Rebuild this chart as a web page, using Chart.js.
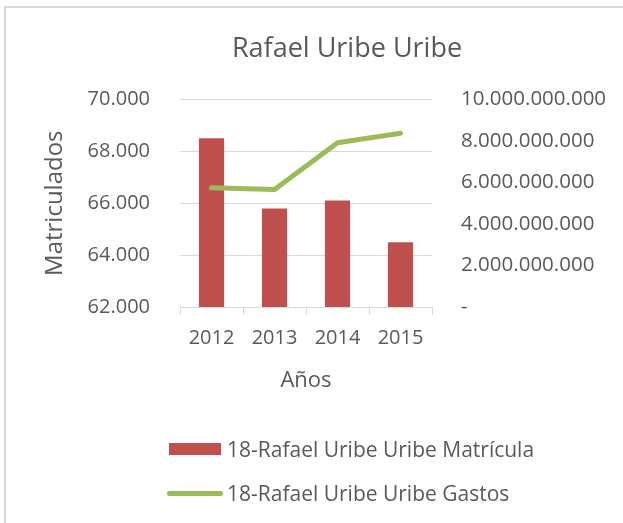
<!DOCTYPE html>
<html>
<head>
<meta charset="utf-8">
<script src="https://cdn.jsdelivr.net/npm/chart.js@4.4.1/dist/chart.umd.min.js"></script>
<style>
	body { margin: 0; background: #fff; overflow: hidden; font-family: 'Open Sans', sans-serif; }
	#marco { position: absolute; left: 4px; top: 6px; width: 700px; height: 600px; border-left: 2px solid #d9d9d9; border-top: 2px solid #d9d9d9; }
	#myChart { position: absolute; left: 0; top: 0; }
	.leyenda { position: absolute; left: 227px; font-size: 21px; color: #595959; line-height: 24px; white-space: nowrap; }
	.cajaBarra { position: absolute; left: 169px; top: 443px; width: 52px; height: 12px; background: #c0504d; }
	.cajaLinea { position: absolute; left: 167px; top: 491px; width: 56px; height: 5px; border-radius: 3px; background: #9bbb59; }
</style>
</head>
<body>
<div id="marco"></div>
<canvas id="myChart" width="700" height="523"></canvas>
<div class="cajaBarra"></div>
<div class="leyenda" id="txtMatricula" style="top: 437px;"></div>
<div class="cajaLinea"></div>
<div class="leyenda" id="txtGastos" style="top: 481px;"></div>
<script>
var anios = [ '2012', '2013', '2014', '2015' ];
var matricula = [ 68500, 65800, 66100, 64500 ];
var gastos = [ 5740000000, 5660000000, 7910000000, 8370000000 ];
var etiquetaMatricula = '18-Rafael Uribe Uribe Matrícula';
var etiquetaGastos = '18-Rafael Uribe Uribe Gastos';

function formatoMiles(v) {
	return String(Math.round(v)).replace(/\B(?=(\d{3})+(?!\d))/g, '.');
}

function pintaGrafica() {
	document.getElementById('txtMatricula').textContent = etiquetaMatricula;
	document.getElementById('txtGastos').textContent = etiquetaGastos;

	Chart.defaults.font.family = "'Open Sans', sans-serif";
	Chart.defaults.color = '#595959';

	var ctx = document.getElementById('myChart').getContext('2d');
	var chart = new Chart(ctx, {
		type : 'bar',
		data : {
			labels : anios,
			datasets : [ {
				label : etiquetaMatricula,
				data : matricula,
				backgroundColor : '#c0504d',
				barPercentage : 0.4,
				categoryPercentage : 1,
				yAxisID : 'y',
				order : 1
			}, {
				type : 'line',
				label : etiquetaGastos,
				data : gastos,
				borderColor : '#9bbb59',
				borderWidth : 5,
				borderCapStyle : 'round',
				borderJoinStyle : 'round',
				pointRadius : 0,
				tension : 0,
				fill : false,
				yAxisID : 'y1',
				order : 0
			} ]
		},
		options : {
			responsive : false,
			animation : false,
			layout : {
				padding : { left : 10, right : 16, top : 0, bottom : 129 }
			},
			plugins : {
				legend : { display : false },
				tooltip : { enabled : false },
				title : {
					display : true,
					text : 'Rafael Uribe Uribe',
					font : { size : 27, weight : 'normal' },
					color : '#595959',
					padding : { top : 33, bottom : 34 }
				}
			},
			scales : {
				x : {
					grid : {
						display : true,
						drawOnChartArea : false,
						tickLength : 8,
						color : '#d9d9d9',
						offset : true
					},
					border : { display : true, color : '#d9d9d9' },
					ticks : { font : { size : 20 }, padding : 11, color : '#595959' },
					title : {
						display : true,
						text : 'Años',
						font : { size : 22 },
						color : '#595959',
						padding : 0
					},
					afterFit : function(scale) {
						scale.height = 87;
					}
				},
				y : {
					position : 'left',
					min : 62000,
					max : 70000,
					ticks : {
						stepSize : 2000,
						font : { size : 20 },
						padding : 30,
						color : '#595959',
						callback : function(v) {
							return formatoMiles(v);
						}
					},
					grid : { color : '#d9d9d9', drawTicks : false },
					border : { display : false },
					title : {
						display : true,
						text : 'Matriculados',
						font : { size : 24 },
						color : '#595959',
						padding : { top : 31, bottom : 0 }
					},
					afterFit : function(scale) {
						scale.width = 170;
					}
				},
				y1 : {
					position : 'right',
					min : 0,
					max : 10000000000,
					ticks : {
						stepSize : 2000000000,
						font : { size : 20.5 },
						padding : 21,
						color : '#595959',
						callback : function(v) {
							return v === 0 ? '-' : formatoMiles(v);
						}
					},
					grid : { display : false },
					border : { display : false },
					afterFit : function(scale) {
						scale.width = 252;
					}
				}
			}
		}
	});
}

pintaGrafica();
</script>
</body>
</html>
